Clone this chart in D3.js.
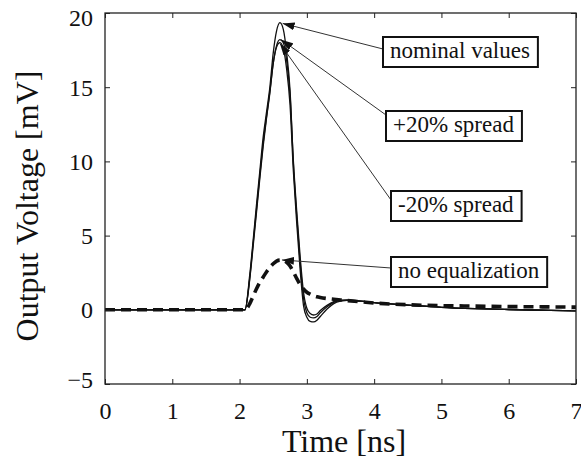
<!DOCTYPE html>
<html>
<head>
  <meta charset="utf-8">
  <title>Output Voltage vs Time</title>
  <style>
    body { margin: 0; background: #fff; }
    text { font-family: "Liberation Serif", "Times New Roman", serif; fill: #111; }
  </style>
</head>
<body>
  <script src="https://d3js.org/d3.v7.min.js"></script>
  <script type="text/javascript">
    // time axis samples [ns]
    var timeNs = [0, 1, 2, 2.08, 2.15, 2.2, 2.25, 2.3, 2.35, 2.4, 2.45, 2.5, 2.55, 2.6, 2.65, 2.7,
                  2.75, 2.8, 2.85, 2.9, 2.95, 3.0, 3.05, 3.1, 3.15, 3.2, 3.3, 3.4, 3.5, 3.6, 3.8,
                  4.0, 4.5, 5.0, 5.5, 6.0, 6.5, 7.0];

    // output voltage [mV]
    var nominal = [0, 0, 0, 0, 2.3, 4.6, 7.0, 9.3, 11.6, 13.3, 15.0, 17.3, 18.8, 19.35, 18.9, 17.3,
                   14.8, 9.8, 6.3, 3.2, 0.8, -0.2, -0.5, -0.55, -0.45, -0.2, 0.2, 0.5, 0.62, 0.64, 0.58,
                   0.48, 0.32, 0.17, 0.08, 0.02, -0.03, -0.07];
    var plus20 = [0, 0, 0, 0, 2.0, 4.2, 6.5, 8.8, 11.0, 12.9, 14.6, 16.6, 17.8, 18.2, 18.0, 16.8,
                  14.5, 10.0, 6.6, 3.6, 1.2, 0.1, -0.25, -0.35, -0.28, -0.05, 0.3, 0.55, 0.65, 0.66, 0.58,
                  0.48, 0.32, 0.17, 0.08, 0.02, -0.03, -0.07];
    var minus20 = [0, 0, 0, 0, 2.1, 4.4, 6.7, 9.0, 11.2, 13.0, 14.7, 16.6, 17.7, 18.0, 17.6, 16.2,
                   13.8, 9.3, 5.8, 2.7, 0.3, -0.5, -0.78, -0.82, -0.7, -0.45, 0.05, 0.42, 0.58, 0.63, 0.58,
                   0.48, 0.32, 0.17, 0.08, 0.02, -0.03, -0.07];
    var noEqualization = [0, 0, 0, 0, 0.4, 0.9, 1.4, 1.85, 2.2, 2.55, 2.85, 3.1, 3.28, 3.35, 3.33, 3.2,
                          2.95, 2.55, 2.1, 1.7, 1.4, 1.18, 1.05, 0.95, 0.88, 0.83, 0.76, 0.71, 0.66, 0.62, 0.54,
                          0.46, 0.34, 0.28, 0.25, 0.22, 0.2, 0.18];

    var xTicks = [0, 1, 2, 3, 4, 5, 6, 7];
    var yTicks = [-5, 0, 5, 10, 15, 20];

    // annotation labels and the curve point each arrow points at
    var annoLabels = ["nominal values", "+20% spread", "-20% spread", "no equalization"];
    var annoTipT = [2.64, 2.62, 2.6, 2.63];
    var annoTipV = [19.3, 18.2, 17.95, 3.36];

    var width = 581, height = 463;
    var margin = {top: 13, right: 5, bottom: 79, left: 105};
    var plotW = width - margin.left - margin.right,
        plotH = height - margin.top - margin.bottom;

    var svg = d3.select("body").append("svg")
      .attr("width", width)
      .attr("height", height);

    var x = d3.scaleLinear().domain([0, 7]).range([margin.left, margin.left + plotW]);
    var y = d3.scaleLinear().domain([-5, 20]).range([margin.top + plotH, margin.top]);

    svg.append("defs").append("marker")
      .attr("id", "arrow")
      .attr("markerUnits", "userSpaceOnUse")
      .attr("viewBox", "0 0 12 8")
      .attr("refX", 12).attr("refY", 4)
      .attr("markerWidth", 12).attr("markerHeight", 8)
      .attr("orient", "auto")
      .append("path")
      .attr("d", "M0,0 L12,4 L0,8 Z")
      .attr("fill", "#111");

    // curves
    var line = d3.line()
      .x(function(d, i) { return x(timeNs[i]); })
      .y(function(d) { return y(d); })
      .curve(d3.curveMonotoneX);

    [nominal, plus20, minus20].forEach(function(s) {
      svg.append("path")
        .datum(s)
        .attr("d", line)
        .attr("fill", "none")
        .attr("stroke", "#111")
        .attr("stroke-width", 1.3);
    });

    svg.append("path")
      .datum(noEqualization)
      .attr("d", line)
      .attr("fill", "none")
      .attr("stroke", "#111")
      .attr("stroke-width", 3.6)
      .attr("stroke-dasharray", "10,6");

    // frame with inward ticks on all four sides
    svg.append("rect")
      .attr("x", x(0)).attr("y", y(20))
      .attr("width", x(7) - x(0)).attr("height", y(-5) - y(20))
      .attr("fill", "none").attr("stroke", "#222").attr("stroke-width", 1.3);

    var tickLen = 5;
    svg.append("g").attr("transform", "translate(0," + y(-5) + ")")
      .call(d3.axisBottom(x).tickValues(xTicks).tickSize(-tickLen).tickFormat(d3.format("d")).tickPadding(18))
      .call(function(g) {
        g.select(".domain").remove();
        g.selectAll("line").attr("stroke", "#222");
        g.selectAll("text").attr("font-size", 24).attr("font-family", "Liberation Serif").attr("fill", "#111");
      });
    svg.append("g").attr("transform", "translate(0," + y(20) + ")")
      .call(d3.axisTop(x).tickValues(xTicks).tickSize(-tickLen).tickFormat(""))
      .call(function(g) { g.select(".domain").remove(); g.selectAll("line").attr("stroke", "#222"); });

    svg.append("g").attr("transform", "translate(" + x(0) + ",0)")
      .call(d3.axisLeft(y).tickValues(yTicks).tickSize(-tickLen).tickFormat(d3.format("d")).tickPadding(12))
      .call(function(g) {
        g.select(".domain").remove();
        g.selectAll("line").attr("stroke", "#222");
        g.selectAll("text").attr("font-size", 24).attr("font-family", "Liberation Serif").attr("fill", "#111")
          .attr("dy", function(d) { return d === 20 ? "0.5em" : (d === -5 ? "0.16em" : "0.33em"); });
      });
    svg.append("g").attr("transform", "translate(" + x(7) + ",0)")
      .call(d3.axisRight(y).tickValues(yTicks).tickSize(-tickLen).tickFormat(""))
      .call(function(g) { g.select(".domain").remove(); g.selectAll("line").attr("stroke", "#222"); });

    // axis titles
    svg.append("text")
      .attr("x", 344).attr("y", 452)
      .attr("text-anchor", "middle")
      .attr("font-size", 32)
      .text("Time [ns]");

    svg.append("text")
      .attr("transform", "translate(38,206) rotate(-90)")
      .attr("text-anchor", "middle")
      .attr("font-size", 32)
      .text("Output Voltage [mV]");

    // annotation boxes with arrows
    var boxPos = [[383, 37], [386, 111], [391, 191], [391, 257]];
    var arrowStart = [[383, 49], [386, 115], [391, 200], [391, 268]];

    annoLabels.forEach(function(label, i) {
      svg.append("line")
        .attr("x1", arrowStart[i][0]).attr("y1", arrowStart[i][1])
        .attr("x2", x(annoTipT[i])).attr("y2", y(annoTipV[i]))
        .attr("stroke", "#333").attr("stroke-width", 1)
        .attr("marker-end", "url(#arrow)");

      var g = svg.append("g").attr("transform", "translate(" + boxPos[i][0] + "," + boxPos[i][1] + ")");
      var rect = g.append("rect").attr("fill", "#fff").attr("stroke", "#111").attr("stroke-width", 2);
      var t = g.append("text")
        .attr("x", 7).attr("y", 21)
        .attr("font-size", 23)
        .text(label);
      var w = t.node().getComputedTextLength();
      rect.attr("width", w + 15).attr("height", 30);
    });
  </script>
</body>
</html>
